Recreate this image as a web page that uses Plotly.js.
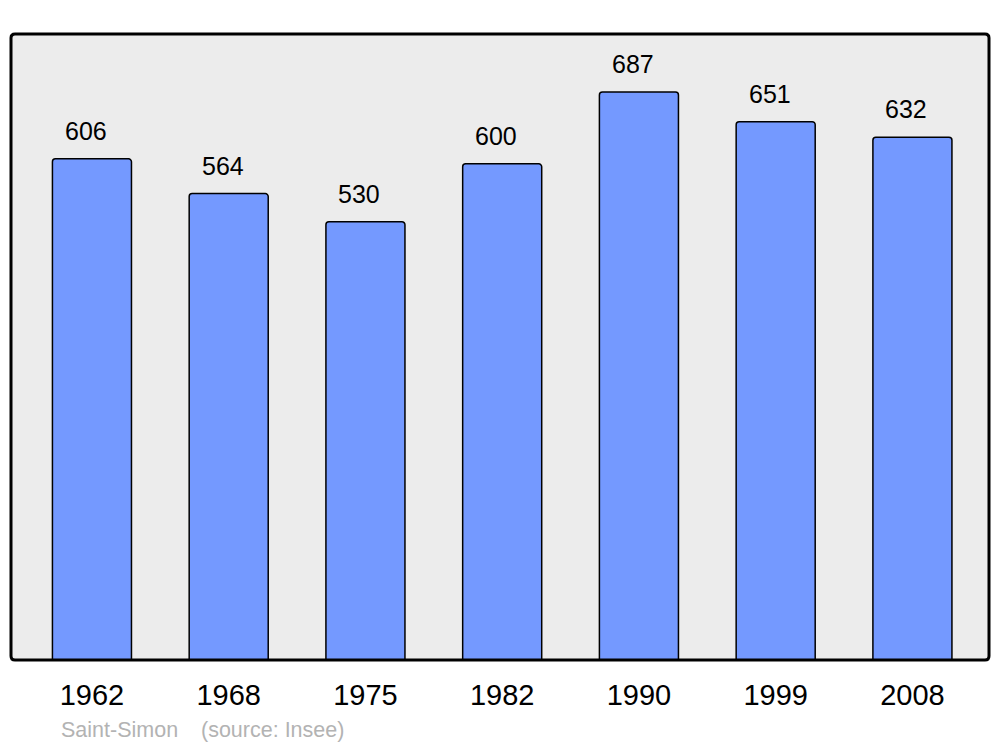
<!DOCTYPE html>
<html>
<head>
<meta charset="utf-8">
<script src="https://cdn.plot.ly/plotly-3.0.1.min.js"></script>
<style>html,body{margin:0;padding:0;background:#fff;}#chart{width:1000px;height:747px;}</style>
</head>
<body>
<div id="chart"></div>
<script>
const years = ["1962", "1968", "1975", "1982", "1990", "1999", "2008"];
const population = [606, 564, 530, 600, 687, 651, 632];
const townName = "Saint-Simon";
const sourceText = "(source: Insee)";

const font = "Liberation Sans, Arial, sans-serif";

const trace = {
  type: "bar",
  x: years,
  y: population,
  width: 0.578,
  marker: {
    color: "#7499FF",
    line: {color: "#000", width: 1.5},
    cornerradius: 3
  },
  hoverinfo: "skip"
};

const annotations = years.map((yr, i) => ({
  x: i, y: population[i], xref: "x", yref: "y",
  text: String(population[i]), showarrow: false,
  xanchor: "center", yanchor: "middle", xshift: -6, yshift: 28,
  font: {family: font, size: 25, color: "#000"}
}));
annotations.push({
  xref: "paper", yref: "paper", x: 0.049, y: -0.112, xanchor: "left", yanchor: "middle",
  text: townName, showarrow: false, font: {family: font, size: 21.5, color: "#b3b3b3"}
});
annotations.push({
  xref: "paper", yref: "paper", x: 0.192, y: -0.112, xanchor: "left", yanchor: "middle",
  text: sourceText, showarrow: false, font: {family: font, size: 21.5, color: "#b3b3b3"}
});

const rx = 4 / 978, ry = 4 / 626;
const borderPath =
  `M ${rx},0 L ${1 - rx},0 Q 1,0 1,${ry} L 1,${1 - ry} Q 1,1 ${1 - rx},1 ` +
  `L ${rx},1 Q 0,1 0,${1 - ry} L 0,${ry} Q 0,0 ${rx},0 Z`;

const layout = {
  width: 1000, height: 747,
  margin: {l: 11, r: 11, t: 34, b: 87, pad: 0},
  paper_bgcolor: "#fff",
  plot_bgcolor: "#ECECEC",
  showlegend: false,
  xaxis: {
    type: "category", range: [-0.592, 6.56],
    showgrid: false, zeroline: false, showline: false, ticks: "",
    tickfont: {family: font, size: 29, color: "#000"},
    ticklabelstandoff: 15, fixedrange: true
  },
  yaxis: {
    range: [0, 757], showgrid: false, zeroline: false, showline: false,
    showticklabels: false, ticks: "", fixedrange: true
  },
  shapes: [{
    type: "path", xref: "paper", yref: "paper", path: borderPath,
    line: {color: "#000", width: 3}, fillcolor: "rgba(0,0,0,0)", layer: "above"
  }],
  annotations: annotations
};

Plotly.newPlot("chart", [trace], layout, {displayModeBar: false, staticPlot: true});
</script>
</body>
</html>
